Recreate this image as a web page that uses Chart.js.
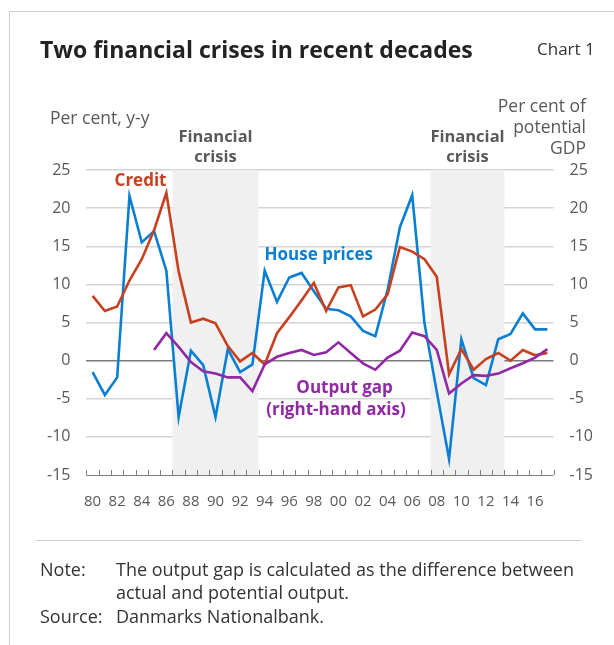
<!DOCTYPE html>
<html>
<head>
<meta charset="utf-8">
<script src="https://cdn.jsdelivr.net/npm/chart.js@4/dist/chart.umd.min.js"></script>
<style>
    html, body { margin: 0; padding: 0; background: #fff; }
    body { width: 614px; height: 645px; position: relative; overflow: hidden; font-family: "Open Sans", "Noto Sans", sans-serif; }
    #frame { position: absolute; left: 9px; top: 11px; width: 620px; height: 660px; border-left: 1px solid #cfcfcf; border-top: 1px solid #cfcfcf; }
    #chartBox { position: absolute; left: 0; top: 0; width: 614px; height: 645px; }
    .txt { position: absolute; white-space: nowrap; }
    #title { left: 40px; top: 33px; font-size: 23px; font-weight: 700; color: #222; }
    #chartNo { left: 537px; top: 37px; font-size: 17px; color: #333; }
    #unitLeft { left: 50px; top: 106px; font-size: 17.5px; line-height: 22px; color: #595959; }
    #unitRight { right: 28px; top: 95px; font-size: 17.5px; color: #595959; text-align: right; line-height: 21px; }
    #sep { position: absolute; left: 36px; top: 540px; width: 546px; height: 1px; background: #cfcfcf; }
    .foot { font-size: 18px; line-height: 24px; color: #333; }
</style>
</head>
<body>
<div id="frame"></div>
<div id="chartBox"><canvas id="mainChart"></canvas></div>
<div class="txt" id="title">Two financial crises in recent decades</div>
<div class="txt" id="chartNo">Chart 1</div>
<div class="txt" id="unitLeft">Per cent, y-y</div>
<div class="txt" id="unitRight">Per cent of<br>potential<br>GDP</div>
<div id="sep"></div>
<div class="txt foot" style="left:40px; top:557px;">Note:</div>
<div class="txt foot" style="left:116px; top:557px;">The output gap is calculated as the difference between</div>
<div class="txt foot" style="left:116px; top:580px;">actual and potential output.</div>
<div class="txt foot" style="left:40px; top:604px;">Source:</div>
<div class="txt foot" style="left:116px; top:604px;">Danmarks Nationalbank.</div>

<script>
// ------------------------------------------------------------
//  DATA (annual, 1980-2017)
// ------------------------------------------------------------
const years = [];
for (let y = 1980; y <= 2017; y++) years.push(String(y));

const housePrices = [
    -1.5, -4.5, -2.2, 21.6, 15.5, 17.0, 11.8, -7.4, 1.3, -0.6,
    -7.4, 1.5, -1.5, -0.5, 11.8, 7.7, 10.9, 11.5, 9.1, 6.8,
    6.6, 5.8, 3.9, 3.2, 9.3, 17.5, 21.7, 4.9, -4.1, -12.9,
    2.8, -2.3, -3.2, 2.8, 3.5, 6.2, 4.1, 4.1
];

const credit = [
    8.5, 6.5, 7.1, 10.5, 13.3, 17.1, 22.0, 11.7, 5.0, 5.5,
    4.9, 1.9, -0.1, 1.0, -0.5, 3.6, 5.7, 7.9, 10.2, 6.5,
    9.6, 9.9, 5.8, 6.7, 8.7, 14.9, 14.3, 13.3, 11.0, -1.8,
    1.5, -1.2, 0.2, 1.0, 0.0, 1.4, 0.7, 1.0
];

// right-hand axis, starts 1985
const outputGap = [
    null, null, null, null, null, 1.4, 3.6, 1.8, -0.2, -1.4,
    -1.7, -2.2, -2.2, -4.0, -0.5, 0.5, 1.0, 1.4, 0.75, 1.1,
    2.4, 1.0, -0.35, -1.2, 0.4, 1.3, 3.7, 3.2, 1.4, -4.3,
    -3.0, -1.9, -2.0, -1.7, -1.0, -0.35, 0.4, 1.5
];

const crisisPeriods = [["1987", "1993"], ["2008", "2013"]];
const yTicks = [-15, -10, -5, 0, 5, 10, 15, 20, 25];

const RED = "#c7401f";
const BLUE = "#0a7fd2";
const PURPLE = "#9128a4";
const FONT = '"Open Sans", "Noto Sans", sans-serif';

// ------------------------------------------------------------
//  PLUGINS
// ------------------------------------------------------------
const crisisShading = {
    id: "crisisShading",
    beforeDatasetsDraw(chart) {
        const { ctx, chartArea, scales } = chart;
        const x = scales.x;
        const half = (x.getPixelForValue(1) - x.getPixelForValue(0)) / 2;
        ctx.save();
        crisisPeriods.forEach(([a, b]) => {
            const x0 = x.getPixelForValue(years.indexOf(a)) - half;
            const x1 = x.getPixelForValue(years.indexOf(b)) + half;
            ctx.fillStyle = "#f0f0f0";
            ctx.fillRect(x0, chartArea.top, x1 - x0, chartArea.bottom - chartArea.top);

            ctx.fillStyle = "#595959";
            ctx.font = "bold 16.5px " + FONT;
            ctx.textAlign = "center";
            ctx.textBaseline = "middle";
            const cx = (x0 + x1) / 2;
            ctx.fillText("Financial", cx, chartArea.top - 33);
            ctx.fillText("crisis", cx, chartArea.top - 13);
        });
        ctx.restore();
    }
};

// small tick marks pointing up from the bottom axis, at year boundaries
const yearTicks = {
    id: "yearTicks",
    afterDatasetsDraw(chart) {
        const { ctx, chartArea, scales } = chart;
        const x = scales.x;
        const half = (x.getPixelForValue(1) - x.getPixelForValue(0)) / 2;
        ctx.save();
        ctx.strokeStyle = "#7f7f7f";
        ctx.lineWidth = 1;
        ctx.beginPath();
        for (let i = 0; i <= years.length; i++) {
            const px = Math.round(x.getPixelForValue(i) - half) + 0.5;
            ctx.moveTo(px, chartArea.bottom);
            ctx.lineTo(px, chartArea.bottom - 5);
        }
        ctx.moveTo(chartArea.left, chartArea.bottom + 0.5);
        ctx.lineTo(chartArea.right, chartArea.bottom + 0.5);
        ctx.stroke();
        ctx.restore();
    }
};

const seriesLabels = {
    id: "seriesLabels",
    afterDatasetsDraw(chart) {
        const { ctx, scales } = chart;
        const put = (text, idx, val, color) => {
            ctx.fillStyle = color;
            ctx.fillText(text, scales.x.getPixelForValue(idx), scales.y.getPixelForValue(val));
        };
        ctx.save();
        ctx.font = "bold 17px " + FONT;
        ctx.textAlign = "center";
        ctx.textBaseline = "middle";
        put("Credit", 3.9, 23.6, RED);
        put("House prices", 18.4, 13.8, BLUE);
        put("Output gap", 20.5, -3.6, PURPLE);
        put("(right-hand axis)", 19.8, -6.5, PURPLE);
        ctx.restore();
    }
};

// ------------------------------------------------------------
//  CHART
// ------------------------------------------------------------
document.addEventListener("DOMContentLoaded", () => {
    const el = document.getElementById("mainChart");

    const lineStyle = color => ({
        borderColor: color,
        backgroundColor: color,
        borderWidth: 2.6,
        pointRadius: 0,
        tension: 0,
        fill: false
    });

    window.mainChart = new Chart(el, {
        type: "line",
        data: {
            labels: years,
            datasets: [
                { label: "Output gap", data: outputGap, yAxisID: "y2", ...lineStyle(PURPLE) },
                { label: "Credit", data: credit, yAxisID: "y", ...lineStyle(RED) },
                { label: "House prices", data: housePrices, yAxisID: "y", ...lineStyle(BLUE) }
            ]
        },
        options: {
            responsive: true,
            maintainAspectRatio: false,
            animation: false,
            layout: { padding: { left: 31, right: 5, top: 170, bottom: 124 } },
            plugins: {
                legend: { display: false },
                tooltip: { enabled: false }
            },
            scales: {
                x: {
                    offset: true,
                    grid: { display: false },
                    border: { display: false },
                    ticks: {
                        autoSkip: false,
                        maxRotation: 0,
                        padding: 10,
                        color: "#595959",
                        font: { family: FONT, size: 15 },
                        callback: (v, i) => (i % 2 === 0 ? years[i].slice(2) : "")
                    }
                },
                y: {
                    position: "left",
                    min: -15,
                    max: 25,
                    afterBuildTicks: axis => { axis.ticks = yTicks.map(v => ({ value: v })); },
                    grid: {
                        drawTicks: false,
                        color: c => (c.tick.value === 0 ? "#7a7a7a" : (c.tick.value === -15 ? "rgba(0,0,0,0)" : "#d4d4d4")),
                        lineWidth: 1.4
                    },
                    border: { display: false },
                    ticks: { padding: 16, color: "#595959", font: { family: FONT, size: 16 } }
                },
                y2: {
                    position: "right",
                    min: -15,
                    max: 25,
                    afterBuildTicks: axis => { axis.ticks = yTicks.map(v => ({ value: v })); },
                    grid: { drawOnChartArea: false, drawTicks: false },
                    border: { display: false },
                    ticks: { padding: 16, color: "#595959", font: { family: FONT, size: 16 } }
                }
            }
        },
        plugins: [crisisShading, yearTicks, seriesLabels]
    });
});
</script>
</body>
</html>
